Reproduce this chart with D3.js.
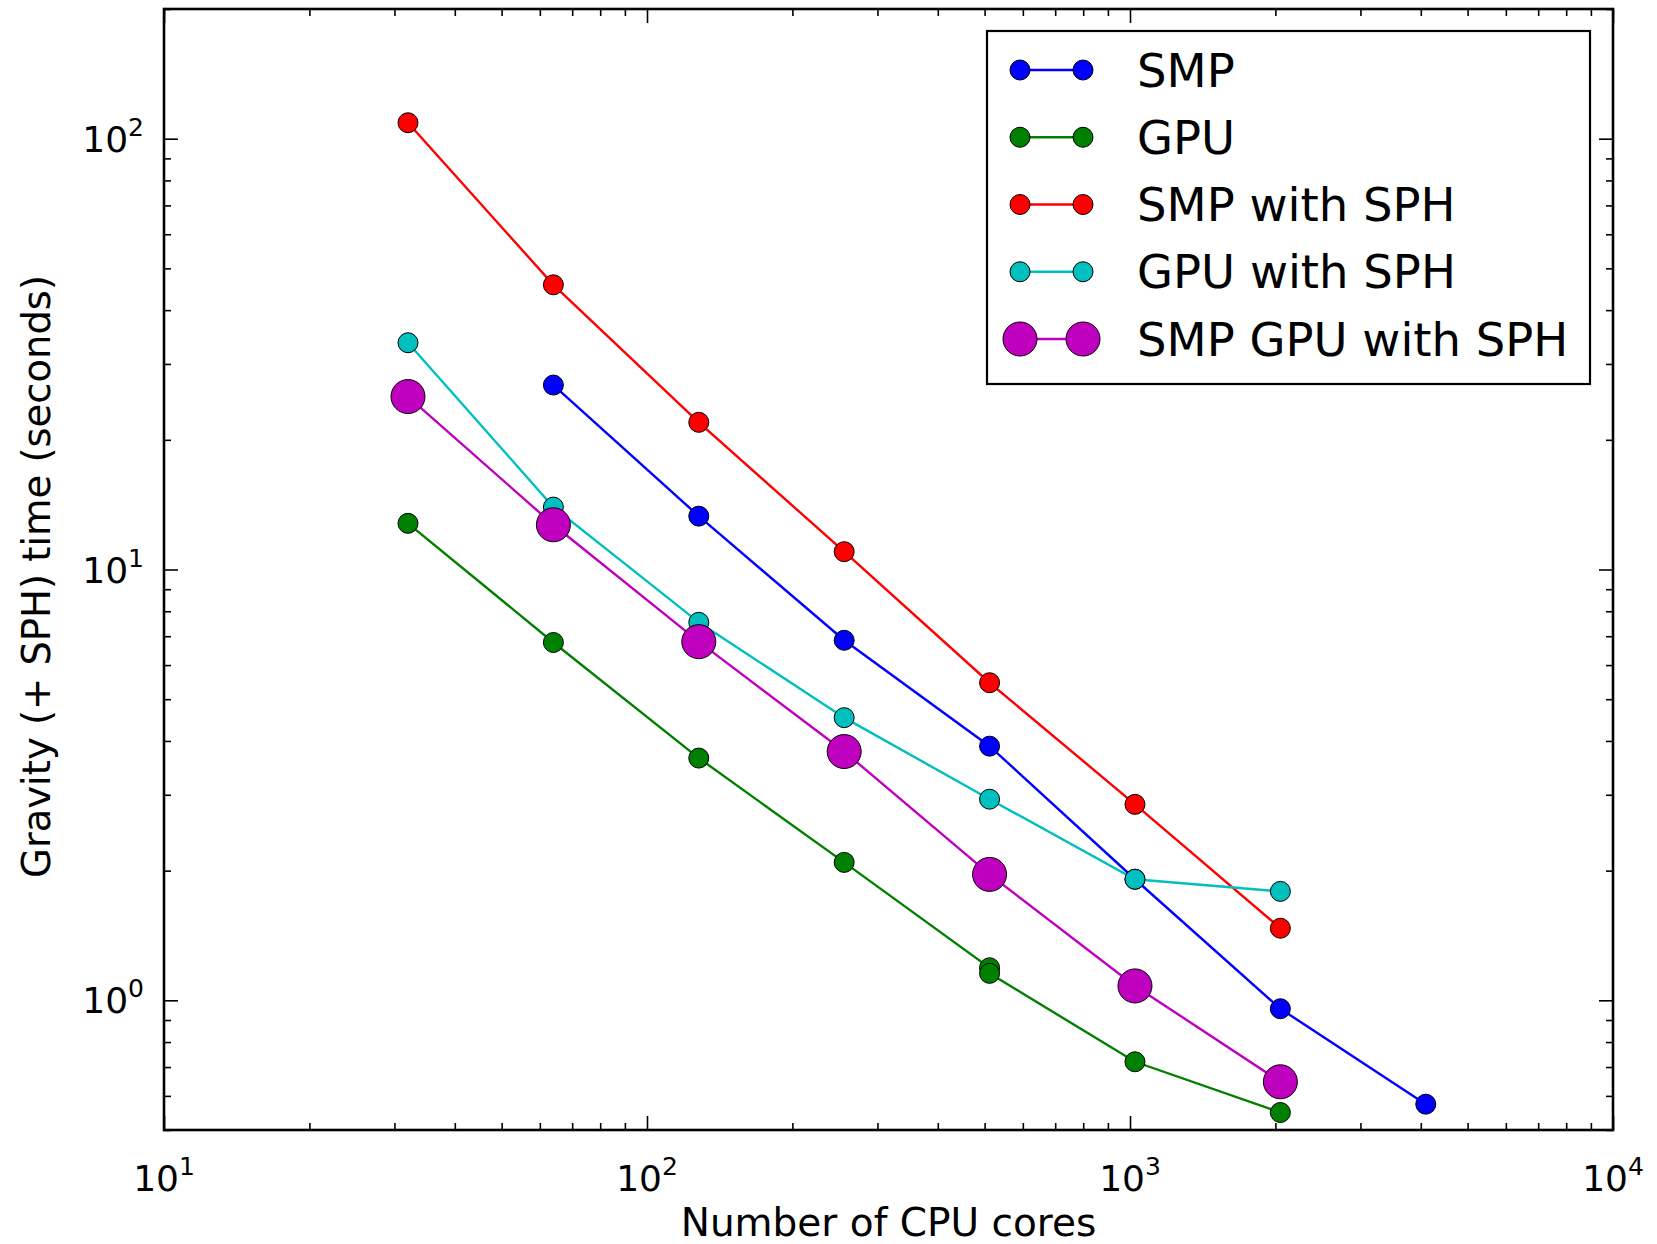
<!DOCTYPE html>
<html><head><meta charset="utf-8">
<script src="https://cdn.jsdelivr.net/npm/d3@7"></script>
<style>body{margin:0;background:#fff}svg{display:block}</style>
</head><body><svg id="c" width="1657" height="1244"></svg>
<script>
// ---- data ----
const smpX = [64,128,256,512,1024,2048,4096];
const smpY = [26.8,13.3,6.85,3.89,1.91,0.956,0.574];
const gpuX = [32,64,128,256,512,512,1024,2048];
const gpuY = [12.8,6.77,3.65,2.09,1.19,1.155,0.72,0.549];
const smpSphX = [32,64,128,256,512,1024,2048];
const smpSphY = [108.9,45.8,21.96,11.0,5.46,2.85,1.47];
const gpuSphX = [32,64,128,256,512,1024,2048];
const gpuSphY = [33.6,13.96,7.54,4.53,2.93,1.91,1.79];
const smpGpuSphX = [32,64,128,256,512,1024,2048];
const smpGpuSphY = [25.2,12.7,6.8,3.78,1.96,1.08,0.647];
const seriesNames = ["SMP","GPU","SMP with SPH","GPU with SPH","SMP GPU with SPH"];
const xTickExps = [1,2,3,4];
const yTickExps = [0,1,2];
const xLabel = "Number of CPU cores";
const yLabel = "Gravity (+ SPH) time (seconds)";

// ---- styles ----
const colors = ["#0000ff","#008000","#ff0000","#00bfbf","#bf00bf"];
const radii = [10,10,10,10,17];
const series = [
  [smpX, smpY], [gpuX, gpuY], [smpSphX, smpSphY], [gpuSphX, gpuSphY], [smpGpuSphX, smpGpuSphY]
].map((s,i)=>({name:seriesNames[i], color:colors[i], r:radii[i],
   pts:s[0].map((x,j)=>[x,s[1][j]])}));

const L=164, R=1613, T=9, B=1130;
const FONT = "'DejaVu Sans', sans-serif";
const svg = d3.select("#c");
svg.append("rect").attr("width",1657).attr("height",1244).attr("fill","#fff");

const x = d3.scaleLog().domain([10,10000]).range([L,R]);
const y = d3.scaleLog().domain([0.5,200]).range([B,T]);

// minor tick values
const xMinor=[], yMinor=[];
for (let e=1;e<4;e++) for (let m=2;m<10;m++) xMinor.push(m*Math.pow(10,e));
for (let e=-1;e<3;e++) for (let m=2;m<10;m++){const v=m*Math.pow(10,e); if(v>=0.5&&v<=200) yMinor.push(v);}
const xMajor = xTickExps.map(e=>Math.pow(10,e));
const yMajor = yTickExps.map(e=>Math.pow(10,e));

function axisGroup(gen, tx, ty){
  const g = svg.append("g").attr("transform",`translate(${tx},${ty})`).call(gen);
  g.select(".domain").remove();
  g.selectAll(".tick line").attr("stroke","#000").attr("stroke-width",1.6);
  return g;
}
const MJ=14, MN=7;
axisGroup(d3.axisBottom(x).tickValues(xMajor).tickSize(-MJ).tickFormat(""),0,B);
axisGroup(d3.axisBottom(x).tickValues(xMinor).tickSize(-MN).tickFormat(""),0,B);
axisGroup(d3.axisTop(x).tickValues(xMajor).tickSize(-MJ).tickFormat(""),0,T);
axisGroup(d3.axisTop(x).tickValues(xMinor).tickSize(-MN).tickFormat(""),0,T);
axisGroup(d3.axisLeft(y).tickValues(yMajor).tickSize(-MJ).tickFormat(""),L,0);
axisGroup(d3.axisLeft(y).tickValues(yMinor).tickSize(-MN).tickFormat(""),L,0);
axisGroup(d3.axisRight(y).tickValues(yMajor).tickSize(-MJ).tickFormat(""),R,0);
axisGroup(d3.axisRight(y).tickValues(yMinor).tickSize(-MN).tickFormat(""),R,0);

// frame
svg.append("rect").attr("x",L).attr("y",T).attr("width",R-L).attr("height",B-T)
  .attr("fill","none").attr("stroke","#000").attr("stroke-width",2.6);

// tick labels
function powLabel(sel, e){
  sel.append("tspan").text("10");
  sel.append("tspan").attr("dy",-16).attr("font-size",25).text(String(e));
}
xTickExps.forEach(e=>{
  const t = svg.append("text").attr("x",x(Math.pow(10,e))).attr("y",B+61)
    .attr("text-anchor","middle").attr("font-family",FONT).attr("font-size",36).attr("fill","#000");
  powLabel(t,e);
});
yTickExps.forEach(e=>{
  const t = svg.append("text").attr("x",L-20).attr("y",y(Math.pow(10,e))+13)
    .attr("text-anchor","end").attr("font-family",FONT).attr("font-size",36).attr("fill","#000");
  powLabel(t,e);
});

// axis labels
svg.append("text").attr("x",(L+R)/2).attr("y",1236).attr("text-anchor","middle")
  .attr("font-family",FONT).attr("font-size",39).attr("fill","#000").text(xLabel);
svg.append("text").attr("transform",`translate(50,${(T+B)/2+7}) rotate(-90)`).attr("text-anchor","middle")
  .attr("font-family",FONT).attr("font-size",38.5).attr("fill","#000").text(yLabel);

// series
const plot = svg.append("g");
const line = d3.line().x(d=>x(d[0])).y(d=>y(d[1]));
series.forEach(s=>{
  const g = plot.append("g");
  g.append("path").attr("d",line(s.pts)).attr("fill","none").attr("stroke",s.color).attr("stroke-width",2.4);
  g.selectAll("circle").data(s.pts).enter().append("circle")
    .attr("cx",d=>x(d[0])).attr("cy",d=>y(d[1])).attr("r",s.r)
    .attr("fill",s.color).attr("stroke","#000").attr("stroke-width",1);
});

// legend
const lg = svg.append("g");
lg.append("rect").attr("x",987).attr("y",31).attr("width",603).attr("height",353)
  .attr("fill","#fff").attr("stroke","#000").attr("stroke-width",2.2);
const rowY = d3.scalePoint().domain(seriesNames).range([70,339]);
series.forEach(s=>{
  const yy = rowY(s.name);
  lg.append("line").attr("x1",1020).attr("x2",1083).attr("y1",yy).attr("y2",yy)
    .attr("stroke",s.color).attr("stroke-width",2.4);
  [1020,1083].forEach(cx=>lg.append("circle").attr("cx",cx).attr("cy",yy).attr("r",s.r)
    .attr("fill",s.color).attr("stroke","#000").attr("stroke-width",1));
  lg.append("text").attr("x",1137).attr("y",yy).attr("dy","0.36em")
    .attr("font-family",FONT).attr("font-size",46.5).attr("fill","#000").text(s.name);
});
</script></body></html>
